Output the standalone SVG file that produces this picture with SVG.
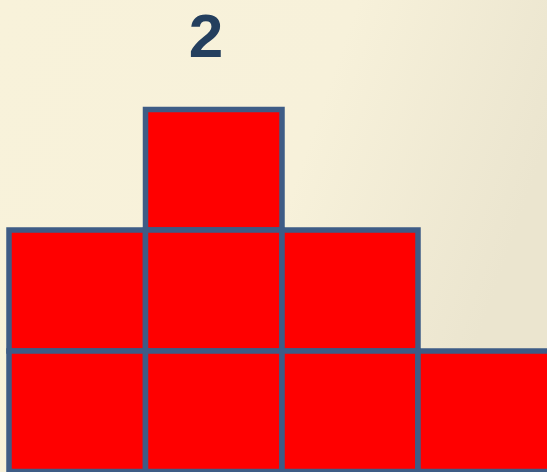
<svg xmlns="http://www.w3.org/2000/svg" width="547" height="472" viewBox="0 0 547 472">
<defs>
<linearGradient id="bg" x1="0" y1="0" x2="1" y2="0.3">
<stop offset="0" stop-color="#f8f2da"/>
<stop offset="0.6" stop-color="#f7f1da"/>
<stop offset="1" stop-color="#ebe5cf"/>
</linearGradient>
<style>
.sq{fill:#ff0000;stroke:#3e5c86;stroke-width:5.5}
.lbl{font-family:"Liberation Sans",Arial,sans-serif;font-weight:bold;font-size:62px;fill:#243f5e;text-anchor:middle}
</style>
</defs>
<rect width="547" height="472" fill="url(#bg)"/>
<g id="label"><text class="lbl" x="206" y="57">2</text></g>
<g id="squares">
<rect id="s1" class="sq" x="145.5" y="109.5" width="136.5" height="120.5"/>
<rect id="s2" class="sq" x="9" y="230" width="136.5" height="121"/>
<rect id="s3" class="sq" x="145.5" y="230" width="136.5" height="121"/>
<rect id="s4" class="sq" x="282" y="230" width="136" height="121"/>
<rect id="s5" class="sq" x="9" y="351" width="136.5" height="120.5"/>
<rect id="s6" class="sq" x="145.5" y="351" width="136.5" height="120.5"/>
<rect id="s7" class="sq" x="282" y="351" width="136" height="120.5"/>
<rect id="s8" class="sq" x="418" y="351" width="136.5" height="120.5"/>
</g>
</svg>
